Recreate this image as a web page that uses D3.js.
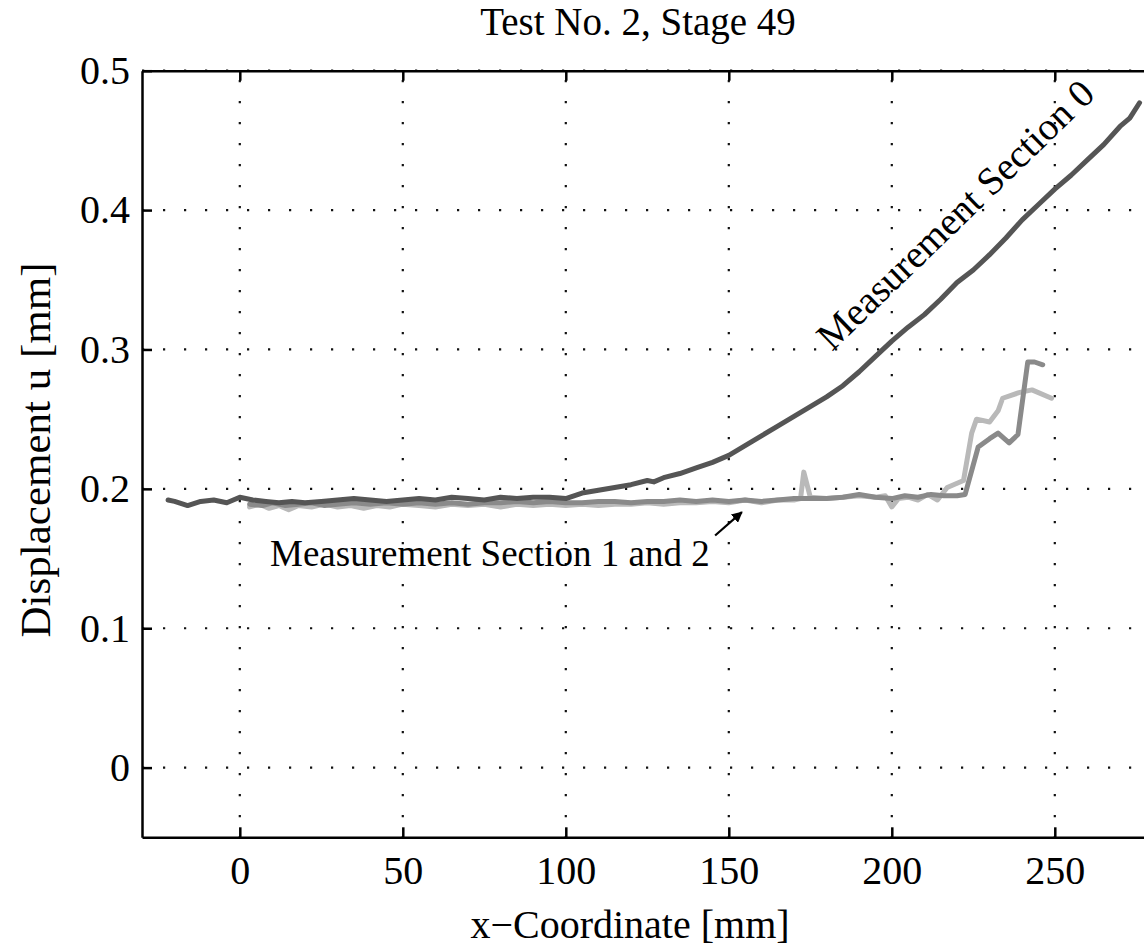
<!DOCTYPE html>
<html>
<head>
<meta charset="utf-8">
<script src="https://cdn.jsdelivr.net/npm/d3@7"></script>
<style>
  html, body { margin: 0; padding: 0; background: #fff; }
  svg { display: block; }
  text { font-family: "Liberation Serif", "Times New Roman", serif; fill: #000; }
</style>
</head>
<body>
<svg id="chart" width="1144" height="950"></svg>
<script>
// ---------- data ----------
const xTicks = [0, 50, 100, 150, 200, 250];
const yTicks = [0, 0.1, 0.2, 0.3, 0.4, 0.5];
const yTickLabels = ["0", "0.1", "0.2", "0.3", "0.4", "0.5"];

const sec0X = [-22, -20, -16, -12, -8, -4, 0, 4, 8, 12, 16, 20, 25, 30, 35, 40, 45, 50, 55, 60, 65, 70, 75, 80, 85, 90, 95, 100,
  105, 110, 115, 120, 125, 127, 130, 135, 140, 145, 150, 155, 160, 165, 170, 175, 180, 185, 190, 195, 200,
  205, 210, 215, 220, 225, 230, 235, 240, 245, 250, 255, 260, 265, 270, 273, 276];
const sec0Y = [0.192, 0.191, 0.188, 0.191, 0.192, 0.190, 0.194, 0.192, 0.191, 0.190, 0.191, 0.190, 0.191, 0.192, 0.193, 0.192, 0.191, 0.192, 0.193, 0.192, 0.194, 0.193, 0.192, 0.194, 0.193, 0.194, 0.194, 0.193,
  0.197, 0.199, 0.201, 0.203, 0.206, 0.205, 0.208, 0.211, 0.215, 0.219, 0.224, 0.231, 0.238, 0.245, 0.252, 0.259, 0.266, 0.274, 0.284, 0.295, 0.306,
  0.316, 0.325, 0.336, 0.348, 0.357, 0.368, 0.380, 0.393, 0.404, 0.415, 0.425, 0.436, 0.447, 0.460, 0.466, 0.477];

const sec1X = [3, 7, 10, 14, 18, 22, 26, 30, 35, 40, 45, 50, 55, 60, 65, 70, 75, 80, 85, 90, 95, 100, 105, 110, 115, 120, 125, 130, 135, 140, 145, 150,
  155, 160, 165, 170, 175, 180, 185, 190, 195, 200, 204, 208, 212, 216, 220, 222.5, 226.5, 230, 232.6, 236, 238.7, 241.7, 243.8, 246.3];
const sec1Y = [0.189, 0.188, 0.190, 0.188, 0.189, 0.190, 0.188, 0.189, 0.190, 0.189, 0.190, 0.189, 0.190, 0.189, 0.190, 0.189, 0.190, 0.190, 0.191, 0.190, 0.191, 0.190, 0.190, 0.191, 0.191, 0.190, 0.191, 0.191, 0.192, 0.191, 0.192, 0.191,
  0.192, 0.191, 0.192, 0.193, 0.193, 0.193, 0.194, 0.196, 0.194, 0.193, 0.195, 0.194, 0.196, 0.195, 0.195, 0.196, 0.230, 0.236, 0.240, 0.233, 0.239, 0.291, 0.291, 0.289];

const sec2X = [3, 6, 9, 12, 15, 18, 22, 26, 30, 34, 38, 42, 46, 50, 55, 60, 65, 70, 75, 80, 85, 90, 95, 100, 105, 110, 115, 120, 125, 130, 135, 140, 145, 150,
  155, 160, 165, 170, 172, 173, 175, 180, 185, 190, 195, 198, 200, 202, 205, 208, 211, 214, 217, 222, 224.5, 226, 230, 232.6, 234, 239, 243, 249];
const sec2Y = [0.187, 0.189, 0.186, 0.188, 0.185, 0.188, 0.187, 0.189, 0.187, 0.188, 0.186, 0.188, 0.187, 0.189, 0.188, 0.187, 0.189, 0.188, 0.189, 0.187, 0.189, 0.188, 0.189, 0.188, 0.189, 0.188, 0.189, 0.189, 0.190, 0.189, 0.190, 0.190, 0.191, 0.190,
  0.192, 0.190, 0.192, 0.192, 0.193, 0.212, 0.194, 0.193, 0.194, 0.195, 0.194, 0.195, 0.187, 0.193, 0.194, 0.192, 0.196, 0.192, 0.201, 0.206, 0.240, 0.250, 0.248, 0.256, 0.265, 0.269, 0.271, 0.265];

const titleText = "Test No. 2, Stage 49";
const xLabel = "x\u2212Coordinate [mm]";
const yLabel = "Displacement u [mm]";
const label0 = "Measurement Section 0";
const label12 = "Measurement Section 1 and 2";
const arrowFrom = [145.8, 0.1665];
const arrowTo = [154, 0.1833];

(function () {
// ---------- layout ----------
const svg = d3.select("#chart");
const pLeft = 142, pTop = 70.7, pBottom = 837.3;
const x = d3.scaleLinear().domain([-30, 300]).range([pLeft, pLeft + 330 * 3.26]);
const y = d3.scaleLinear().domain([-0.05, 0.5]).range([pBottom, pTop]);
const pRight = x(300);

// grid
const grid = svg.append("g");
grid.selectAll("line.v").data(xTicks).join("line").attr("class", "v")
  .attr("x1", d => x(d)).attr("x2", d => x(d))
  .attr("y1", pBottom).attr("y2", pTop)
  .attr("stroke", "#111").attr("stroke-width", 2.2)
  .attr("stroke-dasharray", "2.2,18.8").attr("stroke-dashoffset", -20);
grid.selectAll("line.h").data(yTicks).join("line").attr("class", "h")
  .attr("x1", pLeft).attr("x2", pRight)
  .attr("y1", d => y(d)).attr("y2", d => y(d))
  .attr("stroke", "#111").attr("stroke-width", 2.2)
  .attr("stroke-dasharray", "2.2,18.8").attr("stroke-dashoffset", -21);

// lines
const line = d3.line().x(d => x(d[0])).y(d => y(d[1]));
const series = [
  { xs: sec2X, ys: sec2Y, color: "#b9b9b9" },
  { xs: sec1X, ys: sec1Y, color: "#8a8a8a" },
  { xs: sec0X, ys: sec0Y, color: "#555555" }
];
series.forEach(s => {
  svg.append("path")
    .datum(s.xs.map((v, i) => [v, s.ys[i]]))
    .attr("d", line)
    .attr("fill", "none")
    .attr("stroke", s.color)
    .attr("stroke-width", 5)
    .attr("stroke-linejoin", "round")
    .attr("stroke-linecap", "round");
});

// axes
const axFont = 40;
const xAxis = svg.append("g").attr("transform", `translate(0,${pBottom})`)
  .call(d3.axisBottom(x).tickValues(xTicks).tickSizeInner(-10).tickSizeOuter(0).tickPadding(18));
const xAxisTop = svg.append("g").attr("transform", `translate(0,${pTop})`)
  .call(d3.axisTop(x).tickValues(xTicks).tickSizeInner(-10).tickSizeOuter(0).tickFormat(""));
const yAxis = svg.append("g").attr("transform", `translate(${pLeft},0)`)
  .call(d3.axisLeft(y).tickValues(yTicks).tickSizeInner(-10).tickSizeOuter(0).tickPadding(12)
    .tickFormat((d, i) => yTickLabels[i]));
[xAxis, xAxisTop, yAxis].forEach(g => {
  g.select(".domain").attr("stroke", "#000").attr("stroke-width", 2.5);
  g.selectAll(".tick line").attr("stroke", "#000").attr("stroke-width", 2.5);
  g.selectAll(".tick text").attr("font-size", axFont)
    .attr("font-family", "'Liberation Serif', 'Times New Roman', serif").attr("fill", "#000");
});

// titles
svg.append("text").attr("x", 638).attr("y", 35).attr("text-anchor", "middle")
  .attr("font-size", 39).text(titleText);
svg.append("text").attr("x", 630).attr("y", 938).attr("text-anchor", "middle")
  .attr("font-size", 40).text(xLabel);
svg.append("text").attr("transform", "translate(50,450) rotate(-90)").attr("text-anchor", "middle")
  .attr("font-size", 43).text(yLabel);

// annotations
svg.append("text").attr("transform", "translate(832,352) rotate(-44)")
  .attr("font-size", 39).text(label0);
svg.append("text").attr("x", 270).attr("y", 566)
  .attr("font-size", 37).text(label12);

const defs = svg.append("defs");
defs.append("marker").attr("id", "ah").attr("viewBox", "0 0 10 10")
  .attr("refX", 9).attr("refY", 5).attr("markerWidth", 5).attr("markerHeight", 5)
  .attr("orient", "auto").attr("markerUnits", "strokeWidth")
  .append("path").attr("d", "M0,0 L10,5 L0,10 z").attr("fill", "#000");
svg.append("line")
  .attr("x1", x(arrowFrom[0])).attr("y1", y(arrowFrom[1]))
  .attr("x2", x(arrowTo[0])).attr("y2", y(arrowTo[1]))
  .attr("stroke", "#000").attr("stroke-width", 2.2)
  .attr("marker-end", "url(#ah)");
})();
</script>
</body>
</html>
